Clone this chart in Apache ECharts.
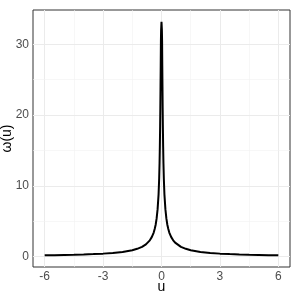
<!DOCTYPE html>
<html><head><meta charset="utf-8">
<script src="https://cdn.jsdelivr.net/npm/echarts@6/dist/echarts.min.js"></script>
<style>html,body{margin:0;padding:0;background:#fff}#c{width:292px;height:292px}</style>
</head><body><div id="c"></div>
<script>
// data
var uNeg = [-6, -5.5, -5, -4.5, -4, -3.5, -3, -2.5, -2, -1.5, -1.25, -1, -0.8, -0.7, -0.6, -0.5, -0.4, -0.35, -0.3, -0.25, -0.2, -0.15, -0.12, -0.1, -0.085, -0.07, -0.06, -0.05, -0.04, -0.03, -0.02];
var wNeg = [0.18, 0.2, 0.23, 0.26, 0.3, 0.35, 0.42, 0.52, 0.66, 0.9, 1.1, 1.38, 1.73, 1.98, 2.3, 2.75, 3.4, 3.9, 4.5, 5.4, 6.7, 8.8, 11, 13.2, 15.5, 18.5, 21, 24, 27, 30.5, 32];
var uPeak = [0];
var wPeak = [33.2];
var uPos = [0.02, 0.03, 0.04, 0.05, 0.06, 0.07, 0.085, 0.1, 0.12, 0.15, 0.2, 0.25, 0.3, 0.35, 0.4, 0.5, 0.6, 0.7, 0.8, 1, 1.25, 1.5, 2, 2.5, 3, 3.5, 4, 4.5, 5, 5.5, 6];
var wPos = [32, 30.5, 27, 24, 21, 18.5, 15.5, 13.2, 11, 8.8, 6.7, 5.4, 4.5, 3.9, 3.4, 2.75, 2.3, 1.98, 1.73, 1.38, 1.1, 0.9, 0.66, 0.52, 0.42, 0.35, 0.3, 0.26, 0.23, 0.2, 0.18];
var xTicks = [-6, -3, 0, 3, 6];
var xMinor = [-4.5, -1.5, 1.5, 4.5];
var yTicks = [0, 10, 20, 30];
var yMinor = [5, 15, 25];

var uAll = uNeg.concat(uPeak, uPos);
var wAll = wNeg.concat(wPeak, wPos);
var pts = uAll.map(function(u, i){ return [u, wAll[i]]; });

var gridLines = [];
xTicks.forEach(function(v){ gridLines.push({xAxis: v, lineStyle:{color:'#ebebeb', width:1, type:'solid'}}); });
xMinor.forEach(function(v){ gridLines.push({xAxis: v, lineStyle:{color:'#f2f2f2', width:0.6, type:'solid'}}); });
yTicks.forEach(function(v){ gridLines.push({yAxis: v, lineStyle:{color:'#ebebeb', width:1, type:'solid'}}); });
yMinor.forEach(function(v){ gridLines.push({yAxis: v, lineStyle:{color:'#f2f2f2', width:0.6, type:'solid'}}); });

var font = 'Liberation Sans, Arial, sans-serif';
var chart = echarts.init(document.getElementById('c'), null, {renderer:'canvas'});
chart.setOption({
  animation: false,
  backgroundColor: '#fff',
  grid: {left: 33, right: 2, top: 10, bottom: 25, containLabel: false, outerBoundsMode: 'none',
    show: true, borderColor: '#333', borderWidth: 1, backgroundColor: 'transparent'},
  xAxis: {
    type: 'value', min: -6.6, max: 6.6,
    name: 'u', nameLocation: 'middle', nameGap: 13, nameMoveOverlap: false,
    nameTextStyle: {color: '#000', fontSize: 14, fontFamily: font, verticalAlign: 'top'},
    axisLine: {show: false},
    splitLine: {show: false},
    axisTick: {show: true, customValues: xTicks, length: 3, lineStyle: {color: '#333', width: 1}},
    axisLabel: {customValues: xTicks, color: '#4d4d4d', fontSize: 12, fontFamily: font, margin: 4,
      formatter: function(v){ return String(v); }}
  },
  yAxis: {
    type: 'value', min: -1.47, max: 34.85,
    name: 'ω(u)', nameLocation: 'middle', nameGap: 19, nameRotate: 90, nameMoveOverlap: false,
    nameTextStyle: {color: '#000', fontSize: 14, fontFamily: font, verticalAlign: 'bottom'},
    axisLine: {show: false},
    splitLine: {show: false},
    axisTick: {show: true, customValues: yTicks, length: 3, lineStyle: {color: '#333', width: 1}},
    axisLabel: {customValues: yTicks, color: '#4d4d4d', fontSize: 12, fontFamily: font, margin: 4,
      formatter: function(v){ return String(v); }}
  },
  series: [{
    type: 'line', data: pts, showSymbol: false, symbol: 'none', smooth: false,
    lineStyle: {color: '#000', width: 2},
    z: 5,
    markLine: {silent: true, symbol: ['none','none'], label: {show: false}, data: gridLines, z: 1, animation: false}
  }]
});
</script></body></html>
